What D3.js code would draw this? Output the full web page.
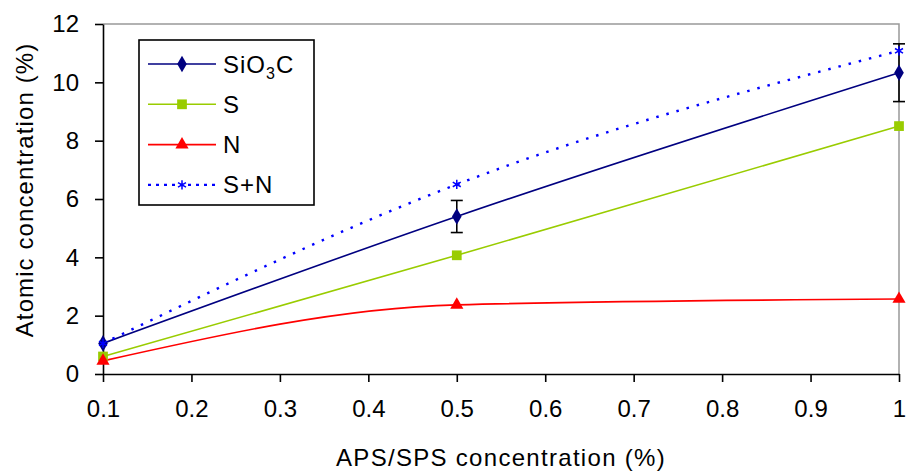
<!DOCTYPE html>
<html>
<head>
<meta charset="utf-8">
<script src="https://cdn.jsdelivr.net/npm/d3@7"></script>
<style>
  body { margin: 0; background: #fff; }
  svg { display: block; }
  text { font-family: "Liberation Sans", Arial, sans-serif; fill: #000; }
</style>
</head>
<body>
<div id="chart"></div>
<script>
// x positions (APS/SPS concentration, %)
const concentrations = [0.1, 0.5, 1];
// atomic concentrations (%)
const sio3cValues = [1.05, 5.4, 10.33];
const sio3cErrors = [0, 0.55, 0.99];
const sValues = [0.6, 4.07, 8.5];
const nValues = [0.45, 2.37, 2.57];
const snValues = [1.05, 6.5, 11.08];

const xTicks = [0.1, 0.2, 0.3, 0.4, 0.5, 0.6, 0.7, 0.8, 0.9, 1];
const yTicks = [0, 2, 4, 6, 8, 10, 12];

const series = [
  { name: "SiO3C", values: sio3cValues, color: "#000080", symbol: d3.symbolDiamond, size: 80, dash: null },
  { name: "S", values: sValues, color: "#99CC00", symbol: d3.symbolSquare, size: 95, dash: null },
  { name: "N", values: nValues, color: "#FF0000", symbol: d3.symbolTriangle, size: 75, dash: null },
  { name: "S+N", values: snValues, color: "#0000FF", symbol: d3.symbolAsterisk, size: 60, dash: "2.5,8" }
];

const width = 906, height = 472;
const margin = { top: 24, right: 7, bottom: 98, left: 103 };

const svg = d3.select("#chart")
  .append("svg")
  .attr("width", width)
  .attr("height", height);

const x = d3.scaleLinear()
  .domain([0.1, 1])
  .range([margin.left, width - margin.right]);

const y = d3.scaleLinear()
  .domain([0, 12])
  .range([height - margin.bottom, margin.top]);

// gray plot border (top + right)
svg.append("path")
  .attr("d", `M${x(0.1)},${y(12)}H${x(1)}V${y(0)}`)
  .attr("fill", "none")
  .attr("stroke", "#999")
  .attr("stroke-width", 1.5);

// X axis
const xAxis = svg.append("g")
  .attr("transform", `translate(0,${y(0)})`)
  .call(d3.axisBottom(x).tickValues(xTicks).tickSize(8).tickSizeOuter(0).tickPadding(18)
    .tickFormat(d3.format("")));
xAxis.selectAll("path, line").attr("stroke", "#000").attr("stroke-width", 1.6);
xAxis.selectAll("text").style("font-size", "24px").attr("font-family", null);

// Y axis
const yAxis = svg.append("g")
  .attr("transform", `translate(${x(0.1)},0)`)
  .call(d3.axisLeft(y).tickValues(yTicks).tickSize(8).tickSizeOuter(0).tickPadding(16));
yAxis.selectAll("path, line").attr("stroke", "#000").attr("stroke-width", 1.6);
yAxis.selectAll("text").style("font-size", "24px").attr("font-family", null);

// axis titles
svg.append("text")
  .attr("x", (x(0.1) + x(1)) / 2)
  .attr("y", 466)
  .attr("text-anchor", "middle")
  .style("font-size", "24px")
  .style("letter-spacing", "1.3px")
  .text("APS/SPS concentration (%)");

svg.append("text")
  .attr("transform", "translate(33,190) rotate(-90)")
  .attr("text-anchor", "middle")
  .style("font-size", "24px")
  .style("letter-spacing", "1.1px")
  .text("Atomic concentration (%)");

// lines
const line = d3.line()
  .x((d, i) => x(concentrations[i]))
  .y(d => y(d))
  .curve(d3.curveMonotoneX);

series.forEach(s => {
  svg.append("path")
    .datum(s.values)
    .attr("fill", "none")
    .attr("stroke", s.color)
    .attr("stroke-width", s.dash ? 2.4 : 1.6)
    .attr("stroke-dasharray", s.dash)
    .attr("d", line);
});

// error bars on SiO3C
const errData = concentrations.map((c, i) => ({ c, v: sio3cValues[i], e: sio3cErrors[i] }))
  .filter(d => d.e > 0);
const eb = svg.append("g").attr("stroke", "#000").attr("stroke-width", 1.6);
eb.selectAll(".ev").data(errData).join("line")
  .attr("x1", d => x(d.c)).attr("x2", d => x(d.c))
  .attr("y1", d => y(d.v - d.e)).attr("y2", d => y(d.v + d.e));
eb.selectAll(".et").data(errData).join("line")
  .attr("x1", d => x(d.c) - 6).attr("x2", d => x(d.c) + 6)
  .attr("y1", d => y(d.v + d.e)).attr("y2", d => y(d.v + d.e));
eb.selectAll(".eb").data(errData).join("line")
  .attr("x1", d => x(d.c) - 6).attr("x2", d => x(d.c) + 6)
  .attr("y1", d => y(d.v - d.e)).attr("y2", d => y(d.v - d.e));

// markers
function drawMarker(g, s) {
  const sym = d3.symbol().type(s.symbol).size(s.size);
  if (s.symbol === d3.symbolAsterisk) {
    g.attr("d", sym).attr("fill", "none").attr("stroke", s.color).attr("stroke-width", 1.5);
  } else {
    g.attr("d", sym).attr("fill", s.color).attr("stroke", "none");
  }
}

series.forEach(s => {
  svg.append("g").selectAll("path")
    .data(s.values)
    .join("path")
    .attr("transform", (d, i) => `translate(${x(concentrations[i])},${y(d)})`)
    .call(g => drawMarker(g, s));
});

// legend
const legend = svg.append("g");
legend.append("rect")
  .attr("x", 139).attr("y", 40)
  .attr("width", 175).attr("height", 165)
  .attr("fill", "#fff")
  .attr("stroke", "#000")
  .attr("stroke-width", 1.6);

series.forEach((s, i) => {
  const ry = 64 + i * 40.3;
  const row = legend.append("g");
  row.append("line")
    .attr("x1", 148).attr("x2", 216)
    .attr("y1", ry).attr("y2", ry)
    .attr("stroke", s.color)
    .attr("stroke-width", s.dash ? 2.2 : 1.6)
    .attr("stroke-dasharray", s.dash ? "3,5" : null);
  row.append("path")
    .attr("transform", `translate(182,${ry})`)
    .call(g => drawMarker(g, s));
  const t = row.append("text")
    .attr("x", 223)
    .attr("y", ry + 8.5)
    .style("font-size", "24px")
    .style("letter-spacing", "1px");
  if (s.name === "SiO3C") {
    t.append("tspan").text("SiO");
    t.append("tspan").attr("dy", 6).style("font-size", "16px").text("3");
    t.append("tspan").attr("dy", -6).text("C");
  } else {
    t.text(s.name);
  }
});
</script>
</body>
</html>
